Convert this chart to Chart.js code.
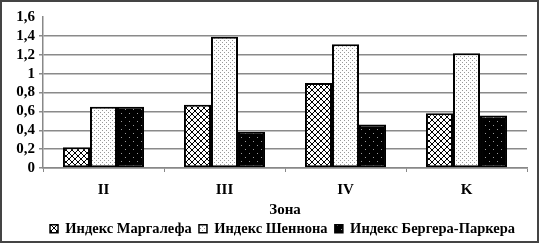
<!DOCTYPE html>
<html>
<head>
<meta charset="utf-8">
<script src="https://cdn.jsdelivr.net/npm/chart.js@4.4.0/dist/chart.umd.min.js"></script>
<style>
  html, body { margin: 0; padding: 0; background: #fff; }
  #wrap { width: 539px; height: 243px; }
</style>
</head>
<body>
<div id="wrap"><canvas id="myChart" width="539" height="243"></canvas></div>
<script>
const zones = ['II', 'III', 'IV', 'K'];
const margalef = [0.22, 0.67, 0.90, 0.58];
const shannon = [0.65, 1.39, 1.31, 1.215];
const berger = [0.65, 0.385, 0.46, 0.555];
const FONT = "'Liberation Serif', 'Times New Roman', serif";

// узоры заливки
const makeTile = (w, h, draw) => {
  const c = document.createElement('canvas');
  c.width = w;
  c.height = h;
  draw(c.getContext('2d'));
  return document.createElement('canvas').getContext('2d').createPattern(c, 'repeat');
};

const hatch = makeTile(6, 6, (g) => {
  g.fillStyle = '#fff';
  g.fillRect(0, 0, 6, 6);
  g.strokeStyle = '#000';
  g.lineWidth = 1;
  g.beginPath();
  g.moveTo(-1, -1); g.lineTo(7, 7);
  g.moveTo(-1, 7); g.lineTo(7, -1);
  g.stroke();
});

const dotsLight = makeTile(4, 4, (g) => {
  g.fillStyle = '#fff';
  g.fillRect(0, 0, 4, 4);
  g.fillStyle = '#999';
  g.fillRect(0, 0, 1, 1);
  g.fillRect(2, 2, 1, 1);
});

const dotsDark = makeTile(8, 8, (g) => {
  g.fillStyle = '#000';
  g.fillRect(0, 0, 8, 8);
  g.fillStyle = '#999';
  g.fillRect(1, 1, 1, 1);
  g.fillRect(5, 5, 1, 1);
});

// рамка вокруг всей картинки
const frame = {
  id: 'frame',
  afterDraw(chart) {
    const c = chart.ctx;
    c.save();
    c.strokeStyle = '#444';
    c.lineWidth = 2;
    c.strokeRect(1, 1, chart.width - 2, chart.height - 2);
    c.restore();
  }
};

// сдвиг легенды
const legendShift = {
  id: 'legendShift',
  afterLayout(chart) {
    const l = chart.legend;
    l.left += 19; l.right += 19;
    l.top += 3; l.bottom += 3;
  }
};

const barStyle = {
  borderColor: '#000',
  borderWidth: 2,
  borderSkipped: false,
  categoryPercentage: 0.67,
  barPercentage: 1.0,
};

let ctx = document.getElementById('myChart');
let myChart = new Chart(ctx, {
  type: 'bar',
  data: {
    labels: zones,
    datasets: [
      { label: 'Индекс Маргалефа', data: margalef, backgroundColor: hatch, ...barStyle },
      { label: 'Индекс Шеннона', data: shannon, backgroundColor: dotsLight, ...barStyle },
      { label: 'Индекс Бергера-Паркера', data: berger, backgroundColor: dotsDark, ...barStyle },
    ]
  },
  options: {
    responsive: false,
    animation: false,
    layout: { padding: { left: 0, right: 12, top: 17, bottom: 0 } },
    plugins: {
      tooltip: { enabled: false },
      legend: {
        position: 'bottom',
        labels: {
          color: '#000',
          font: { family: FONT, size: 14.5, weight: 'bold', lineHeight: 1 },
          boxWidth: 8,
          boxHeight: 8,
          padding: 0,
          generateLabels: (chart) => chart.data.datasets.map((ds, i, all) => ({
            text: i < all.length - 1 ? ds.label + '  ' : ds.label,
            fillStyle: ds.backgroundColor,
            strokeStyle: '#000',
            lineWidth: 1.5,
            datasetIndex: i,
          })),
        },
      },
    },
    scales: {
      x: {
        offset: true,
        afterFit: (s) => { s.height = 50.5; },
        grid: { offset: true, drawOnChartArea: false, tickLength: 4, color: '#888' },
        border: { color: '#888', width: 1.5 },
        ticks: { color: '#000', padding: 11, font: { family: FONT, size: 15, weight: 'bold', lineHeight: 1 } },
        title: {
          display: true,
          text: 'Зона',
          color: '#000',
          padding: { top: 5, bottom: 1 },
          font: { family: FONT, size: 15, weight: 'bold', lineHeight: 1 },
        },
      },
      y: {
        min: 0,
        max: 1.6,
        afterFit: (s) => { s.width = 43; },
        ticks: {
          stepSize: 0.2,
          autoSkip: false,
          color: '#000',
          padding: 4,
          font: { family: FONT, size: 15, weight: 'bold' },
          callback: (v) => String(Math.round(v * 10) / 10).replace('.', ','),
        },
        grid: {
          tickLength: 4,
          lineWidth: 1.5,
          color: (c) => (c.tick && c.tick.value >= 1.59 ? 'rgba(0,0,0,0)' : '#8a8a8a'),
        },
        border: { color: '#888', width: 1.5 },
      },
    },
  },
  plugins: [frame, legendShift],
});
</script>
</body>
</html>
